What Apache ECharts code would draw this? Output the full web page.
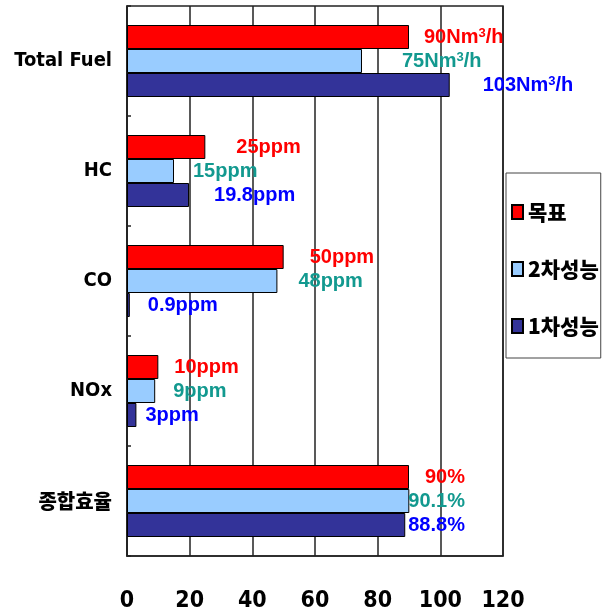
<!DOCTYPE html>
<html><head><meta charset="utf-8">
<script src="https://cdn.jsdelivr.net/npm/echarts@6/dist/echarts.min.js"></script>
<style>html,body{margin:0;padding:0;background:#fff}#c{width:608px;height:616px}</style>
</head><body><div id="c"></div>
<script>
// ---- data ----
const categories = ['Total Fuel', 'HC', 'CO', 'NOx', '종합효율'];
const seriesNames = ['목표', '2차성능', '1차성능'];
const targetVals = [90, 25, 50, 10, 90];
const secondVals = [75, 15, 48, 9, 90.1];
const firstVals = [103, 19.8, 0.9, 3, 88.8];
const units = ['Nm3/h', 'ppm', 'ppm', 'ppm', '%'];
const xTicks = [0, 20, 40, 60, 80, 100, 120];

// ---- style ----
const barColors = ['#ff0000', '#99ccff', '#333399'];
const labelColors = ['#ff0000', '#12998f', '#0000ff'];
const labelGaps = [[15, 31, 26, 16, 16], [40, 19, 21, 18, -1], [33, 25, 18, 9, 3]];

function fmt(p) {
  const u = units[p.dataIndex];
  if (u === 'Nm3/h') return p.value + 'Nm{s|3}/h';
  return p.value + u;
}

const valuesList = [targetVals, secondVals, firstVals];
const series = seriesNames.map((name, si) => ({
  name: name,
  type: 'bar',
  barWidth: 24,
  barGap: '0%',
  itemStyle: { color: barColors[si], borderColor: '#000', borderWidth: 1 },
  data: valuesList[si].map((v, i) => ({
    value: v,
    label: { distance: labelGaps[si][i] }
  })),
  label: {
    show: true,
    position: 'right',
    formatter: fmt,
    color: labelColors[si],
    fontFamily: 'Liberation Sans, Arial, sans-serif',
    fontWeight: 'bold',
    fontSize: 20,
    rich: {
      s: { fontSize: 13, fontWeight: 'bold', color: labelColors[si], verticalAlign: 'top', fontFamily: 'Liberation Sans, Arial, sans-serif' }
    }
  }
}));

const axisFont = 'DejaVu Sans Condensed, Liberation Sans, sans-serif';

const chart = echarts.init(document.getElementById('c'), null, { renderer: 'canvas' });
chart.setOption({
  backgroundColor: '#fff',
  animation: false,
  grid: { left: 127, right: 105, top: 6, bottom: 60, show: true, borderColor: '#222', borderWidth: 1.5, containLabel: false, outerBoundsMode: 'none' },
  legend: {
    orient: 'vertical',
    left: 506,
    top: 173,
    padding: [27, 2, 20, 5],
    itemGap: 33,
    itemWidth: 11,
    itemHeight: 14,
    itemTextGap: 8,
    icon: 'rect',
    borderColor: '#444',
    borderWidth: 1,
    textStyle: { fontFamily: 'Noto Sans CJK KR', fontWeight: 900, fontSize: 21, color: '#000', lineHeight: 24 },
    data: seriesNames
  },
  xAxis: {
    type: 'value',
    min: xTicks[0],
    max: xTicks[xTicks.length - 1],
    interval: xTicks[1] - xTicks[0],
    axisLine: { show: true, lineStyle: { color: '#222', width: 1.5 } },
    axisTick: { show: false },
    splitLine: { show: true, lineStyle: { color: '#222', width: 1.5 } },
    axisLabel: {
      margin: 34,
      color: '#000',
      fontFamily: axisFont,
      fontWeight: 'bold',
      fontSize: 23
    }
  },
  yAxis: {
    type: 'category',
    inverse: true,
    data: categories,
    axisLine: { show: true, lineStyle: { color: '#222', width: 1.5 } },
    axisTick: { show: true, inside: true, length: 4, lineStyle: { color: '#222', width: 1.5 } },
    axisLabel: {
      margin: 15,
      color: '#000',
      formatter: v => /[가-힣]/.test(v) ? '{k|' + v + '}' : '{e|' + v + '}',
      rich: {
        e: { fontFamily: axisFont, fontWeight: 'bold', fontSize: 20, color: '#000' },
        k: { fontFamily: 'Noto Sans CJK KR', fontWeight: 900, fontSize: 20, color: '#000' }
      }
    }
  },
  series: series
});
</script>
</body></html>
